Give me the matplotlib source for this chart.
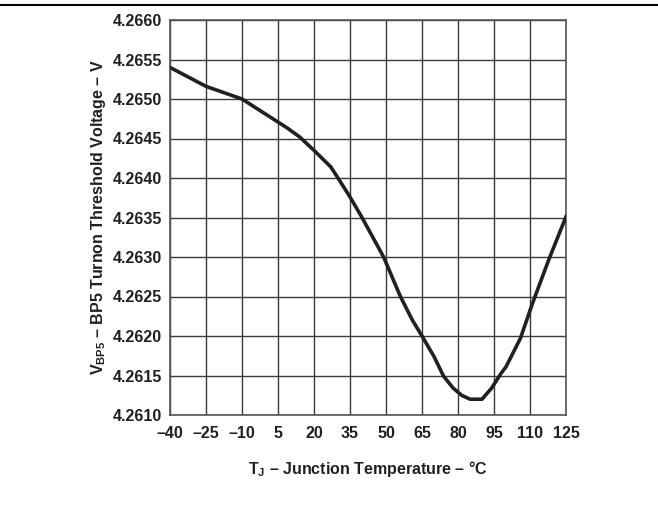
import numpy as np
import matplotlib
matplotlib.use('Agg')
import matplotlib.pyplot as plt
from matplotlib.lines import Line2D

plt.rcParams['font.family'] = ['Liberation Sans', 'DejaVu Sans']
plt.rcParams['font.weight'] = 'bold'
plt.rcParams['mathtext.fontset'] = 'custom'
plt.rcParams['mathtext.rm'] = 'Liberation Sans:bold'
plt.rcParams['mathtext.bf'] = 'Liberation Sans:bold'
plt.rcParams['mathtext.it'] = 'Liberation Sans:bold'

# junction temperature (C) and BP5 turn-on threshold voltage (V)
temp = [-40, -30, -25, -10, 9, 14, 20, 24, 27, 30, 35, 40, 49, 56, 61, 65, 70, 74,
        78, 81.5, 85, 90, 94, 98, 100, 106, 111, 118, 125]
volt = [4.26540, 4.26524, 4.26516, 4.26500, 4.26463, 4.26452, 4.26435,
        4.26423, 4.26414, 4.26400, 4.26376, 4.26350, 4.26300, 4.26250, 4.26220, 4.26200,
        4.26174, 4.26149, 4.26134, 4.26125, 4.26120, 4.26120, 4.26134, 4.26153, 4.26161,
        4.26197, 4.26241, 4.26298, 4.26351]

x_ticks = [-40, -25, -10, 5, 20, 35, 50, 65, 80, 95, 110, 125]
y_ticks = [4.2610, 4.2615, 4.2620, 4.2625, 4.2630, 4.2635, 4.2640, 4.2645, 4.2650, 4.2655, 4.2660]

fig = plt.figure(figsize=(6.58, 5.16), dpi=100)
ax = fig.add_axes([170 / 658, 1 - 415 / 516, 396 / 658, 395 / 516])

ax.plot(temp, volt, color='#231f20', linewidth=2.6, solid_joinstyle='round', zorder=3)

ax.set_xlim(-40, 125)
ax.set_ylim(4.2610, 4.2660)
ax.set_xticks(x_ticks)
ax.set_yticks(y_ticks)
ax.set_xticklabels([str(t).replace('-', '\u2013') for t in x_ticks], fontsize=11.5, fontweight='bold')
ax.set_yticklabels(['%.4f' % v for v in y_ticks], fontsize=11.5, fontweight='bold')
ax.tick_params(axis='both', length=0, colors='#231f20')
ax.tick_params(axis='x', pad=8)
ax.tick_params(axis='y', pad=6)
ax.grid(True, color='#3a3a3a', linewidth=1.0)
ax.set_axisbelow(True)
for s in ax.spines.values():
    s.set_color('#555555')
    s.set_linewidth(1.2)

ax.set_xlabel('T$_{\\mathbf{J}}$ \u2013 Junction Temperature \u2013 \u00b0C', fontsize=11.5,
              fontweight='bold', labelpad=13, color='#231f20')
ax.set_ylabel('V$_{\\mathbf{BP5}}$ \u2013 BP5 Turnon Threshold Voltage \u2013 V', fontsize=11.5,
              fontweight='bold', labelpad=3, color='#231f20')

fig.add_artist(Line2D([0, 1], [1 - 5 / 516, 1 - 5 / 516], color='black', linewidth=1.5))

fig.savefig('out.png', dpi=100)
